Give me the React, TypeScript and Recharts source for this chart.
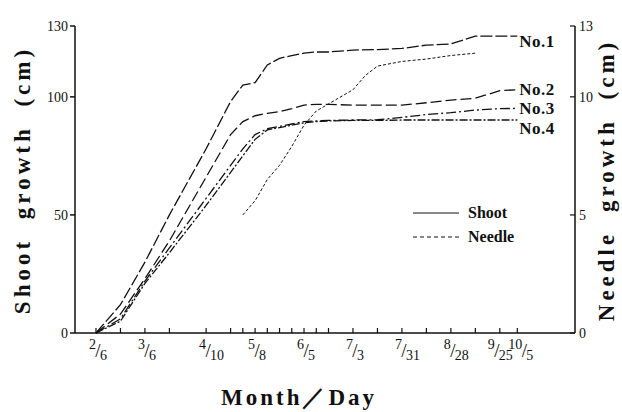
import { LineChart, Line, XAxis, YAxis } from "recharts";

// measurement days, as day of the year (2/6 = 37)
const days = [37, 51, 65, 79, 100, 114, 121, 128, 135, 142, 149, 156, 163, 170, 184, 191, 198, 212, 226, 240, 254, 268, 278];

// shoot growth (cm) of the four trees
const shootNo1 = [0, 12, 30, 50, 78, 98, 105, 106, 113.5, 116.3, 117.5, 118.5, 119, 119, 119.8, null, 120, 120.5, 121.9, 122.4, 125.7, 125.7, 125.7];
const shootNo2 = [0, 8, 23, 39, 66, 84, 89.5, 92, 93, 93.7, 95, 96.5, 96.8, 96.8, 96.5, null, 96.5, 96.5, 97.5, 98.6, 99.4, 102.6, 103];
const shootNo3 = [0, 6, 22, 36, 57, 71, 78, 84, 86.5, 87.5, 88.5, 89.5, 89.8, 90, 90.2, null, 90.3, 91.3, 92.5, 93.3, 94.4, 95, 95.1];
const shootNo4 = [0, 5, 21, 34, 54, 68, 75, 82, 86, 87, 88, 89, 89.5, 89.8, 90, null, 90, 90.2, 90.2, 90.2, 90.2, 90.2, 90.2];

// needle growth (cm)
const needle = [null, null, null, null, null, null, 5.0, 5.6, 6.5, 7.1, 7.9, 8.8, 9.4, 9.7, 10.3, 10.9, 11.3, 11.5, 11.6, 11.75, 11.85, null, null];

// x axis
const dayTicks = [37, 51, 65, 79, 100, 114, 121, 128, 135, 142, 149, 156, 163, 170, 184, 198, 212, 226, 240, 254, 268, 278];
const labelDays = [37, 65, 100, 128, 156, 184, 212, 240, 268, 278];
const labelTexts = ["2/6", "3/6", "4/10", "5/8", "6/5", "7/3", "7/31", "8/28", "9/25", "10/5"];
// nudges so the last two dates don't run into each other
const labelNudge = [0, 0, 0, 0, 0, 0, 0, 0, -5, 5];

const shootTicks = [0, 50, 100, 130];
const needleTicks = [0, 5, 10, 13];

const rows = days.map((day, i) => ({
  day,
  no1: shootNo1[i],
  no2: shootNo2[i],
  no3: shootNo3[i],
  no4: shootNo4[i],
  needle: needle[i],
}));

const INK = "#111";
const SERIF = "'Liberation Serif', 'DejaVu Serif', serif";

const shootLines = [
  { key: "no1", name: "No.1", dash: "12 3", dy: 11 },
  { key: "no2", name: "No.2", dash: "11 4", dy: 5 },
  { key: "no3", name: "No.3", dash: "10 3 2 3", dy: 6 },
  { key: "no4", name: "No.4", dash: "8 2 2 2", dy: 14 },
];

function DayTick(props: any) {
  const { x, y, payload } = props;
  const idx = labelDays.indexOf(payload.value);
  const parts = idx >= 0 ? labelTexts[idx].split("/") : null;
  const lx = x + (idx >= 0 ? labelNudge[idx] : 0);
  return (
    <g>
      <line x1={x} x2={x} y1={y} y2={y - 5} stroke={INK} strokeWidth={1.2} />
      {parts && (
        <g fontFamily={SERIF} fill={INK}>
          <text x={lx} y={y + 16} fontSize={14} textAnchor="end">{parts[0]}</text>
          <text x={lx + 2} y={y + 24} fontSize={19} textAnchor="middle">/</text>
          <text x={lx + 4} y={y + 27} fontSize={14} textAnchor="start">{parts[1]}</text>
        </g>
      )}
    </g>
  );
}

function NeedleTick(props: any) {
  const { y, payload } = props;
  const ax = 575;
  return (
    <g>
      <line x1={ax - 5} x2={ax} y1={y} y2={y} stroke={INK} strokeWidth={1.2} />
      <text x={ax + 4} y={y + 5} fontSize={14} fontFamily={SERIF} fill={INK}>{payload.value}</text>
    </g>
  );
}

const endLabel = (text: string, dy: number) => (props: any) => {
  if (props.index !== days.length - 1) return null;
  return (
    <text key={text} x={props.x + 2} y={props.y + dy} fontSize={17} fontWeight="bold" fontFamily={SERIF} fill={INK} letterSpacing={0.5}>
      {text}
    </text>
  );
};

export default function App() {
  return (
    <div style={{ position: "absolute", left: 0, top: 0, width: 622, height: 412, background: "#fff" }}>
      <LineChart width={622} height={412} data={rows} margin={{ top: 26, right: 7, bottom: 39, left: 30 }}>
        <XAxis
          dataKey="day"
          type="number"
          domain={[25, 311]}
          ticks={dayTicks}
          interval={0}
          allowDataOverflow
          tick={<DayTick />}
          tickLine={false}
          tickSize={0}
          tickMargin={0}
          height={40}
          stroke={INK}
          strokeWidth={1.5}
        />
        <YAxis
          yAxisId="shoot"
          domain={[0, 130]}
          ticks={shootTicks}
          interval={0}
          width={45}
          tickSize={5}
          tickMargin={2}
          stroke={INK}
          strokeWidth={1.5}
          tick={{ fill: INK, fontSize: 14, fontFamily: SERIF }}
        />
        <YAxis
          yAxisId="needle"
          orientation="right"
          domain={[0, 13]}
          ticks={needleTicks}
          interval={0}
          width={40}
          tickSize={0}
          tickMargin={0}
          tickLine={false}
          stroke={INK}
          strokeWidth={1.5}
          tick={<NeedleTick />}
        />
        {shootLines.map((s) => (
          <Line
            key={s.key}
            yAxisId="shoot"
            dataKey={s.key}
            name={s.name}
            type="linear"
            stroke={INK}
            strokeWidth={1.3}
            strokeDasharray={s.dash}
            dot={false}
            connectNulls
            isAnimationActive={false}
            label={endLabel(s.name, s.dy)}
          />
        ))}
        <Line
          yAxisId="needle"
          dataKey="needle"
          name="Needle"
          type="linear"
          stroke={INK}
          strokeWidth={1}
          strokeDasharray="3 2"
          dot={false}
          connectNulls
          isAnimationActive={false}
        />
      </LineChart>
      <svg width={622} height={412} style={{ position: "absolute", left: 0, top: 0, pointerEvents: "none" }}>
        {/* legend */}
        <g fontFamily={SERIF} fill={INK} fontWeight="bold" fontSize={16}>
          <line x1={413} x2={459} y1={213} y2={213} stroke={INK} strokeWidth={1} />
          <text x={468} y={218}>Shoot</text>
          <line x1={413} x2={459} y1={237} y2={237} stroke={INK} strokeWidth={1} strokeDasharray="4 3" />
          <text x={468} y={242}>Needle</text>
        </g>
        {/* axis titles */}
        <g fontFamily={SERIF} fill={INK} fontWeight="bold">
          <text transform="translate(30,180) rotate(-90)" textAnchor="middle" fontSize={23} letterSpacing={4} wordSpacing={9}>
            Shoot growth (cm)
          </text>
          <text transform="translate(614,180) rotate(-90)" textAnchor="middle" fontSize={23} letterSpacing={4} wordSpacing={9}>
            Needle growth (cm)
          </text>
          <text x={299} y={405} textAnchor="middle" fontSize={23} letterSpacing={3}>
            Month／Day
          </text>
        </g>
      </svg>
    </div>
  );
}
